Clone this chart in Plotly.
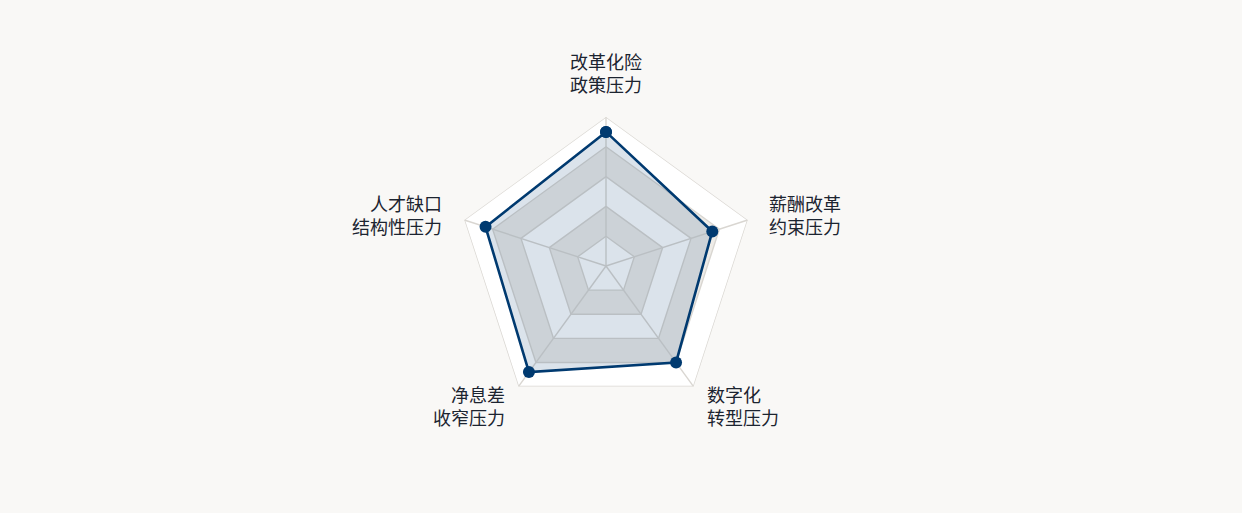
import plotly.graph_objects as go

# ---- data ----
categories = ["改革化险<br>政策压力", "薪酬改革<br>约束压力", "数字化<br>转型压力",
              "净息差<br>收窄压力", "人才缺口<br>结构性压力"]
values = [90, 75, 80, 88, 85]
levels = [20, 40, 60, 80, 100]

NAVY = "#003a70"
BG = "#f9f8f6"
RING_LIGHT = "#ffffff"
RING_DARK = "#eeece8"
GRID = "#d9d6d1"
TEXT = "#1c2430"

W, H = 1242, 513

closed_cats = categories + categories[:1]

fig = go.Figure()

# split areas, outer ring first
for i, lv in enumerate(reversed(levels)):
    color = RING_LIGHT if i % 2 == 0 else RING_DARK
    fig.add_trace(go.Scatterpolar(
        r=[lv] * (len(categories) + 1), theta=closed_cats,
        mode="lines", fill="toself", fillcolor=color,
        line=dict(width=0, color=color), hoverinfo="skip", showlegend=False))

# split lines (rings)
for lv in levels:
    fig.add_trace(go.Scatterpolar(
        r=[lv] * (len(categories) + 1), theta=closed_cats,
        mode="lines", line=dict(color=GRID, width=1.4),
        hoverinfo="skip", showlegend=False))

# spokes
for c in categories:
    fig.add_trace(go.Scatterpolar(
        r=[0, levels[-1]], theta=[c, c], mode="lines",
        line=dict(color=GRID, width=1.4), hoverinfo="skip", showlegend=False))

# data series
fig.add_trace(go.Scatterpolar(
    r=values + values[:1], theta=closed_cats,
    mode="lines+markers", fill="toself", fillcolor="rgba(0,58,112,0.14)",
    line=dict(color=NAVY, width=2.6),
    marker=dict(color=NAVY, size=12),
    showlegend=False))

# indicator names (placed like echarts radar names)
label_pos = [  # (x px, y px, xanchor)
    (606, 72, "center"),
    (767, 214, "left"),
    (705, 405, "left"),
    (507, 405, "right"),
    (444, 214, "right"),
]
for name, (px, py, xa) in zip(categories, label_pos):
    fig.add_annotation(
        x=px / W, y=1 - py / H, xref="paper", yref="paper",
        text=name, showarrow=False, xanchor=xa, yanchor="middle",
        align={"center": "center", "left": "left", "right": "right"}[xa],
        font=dict(size=18, color=TEXT))

fig.update_layout(
    width=W, height=H,
    paper_bgcolor=BG, plot_bgcolor=BG,
    margin=dict(l=0, r=0, t=0, b=0),
    font=dict(family="Noto Sans CJK SC", size=18, color=TEXT),
    polar=dict(
        domain=dict(x=[457 / W, 755 / W], y=[98 / H, 396 / H]),
        bgcolor="rgba(0,0,0,0)",
        gridshape="linear",
        radialaxis=dict(range=[0, 100], visible=False, showgrid=False),
        angularaxis=dict(
            rotation=90, direction="clockwise",
            showgrid=False, showline=False, showticklabels=False, ticks="",
        ),
    ),
)

fig.write_html("out.html", config={"displayModeBar": False},
               post_script="document.body.style.margin='0';")
